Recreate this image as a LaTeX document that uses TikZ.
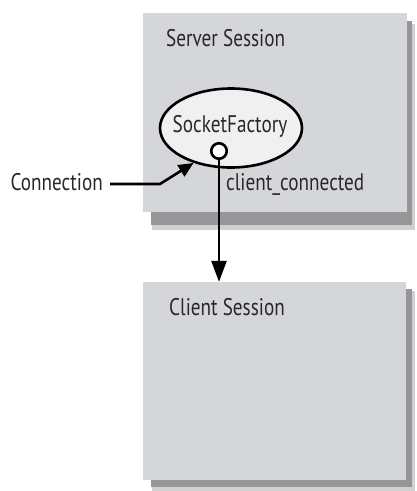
\documentclass[tikz,border=0pt]{standalone}
\usepackage{fontspec}
\setmainfont{PT Sans}[FakeStretch=0.80]
\usetikzlibrary{arrows.meta,shapes.geometric}
\definecolor{boxgray}{RGB}{213,214,217}
\definecolor{shadowgray}{RGB}{150,150,152}
\definecolor{ellfill}{RGB}{240,240,240}
\definecolor{txt}{RGB}{40,40,40}
\tikzset{
  session/.style={fill=boxgray, draw=none},
  lbl/.style={font=\fontsize{24}{26}\selectfont, text=txt, inner sep=0pt},
  conn/.style={line width=2.6pt, -{Triangle[length=21pt,width=15pt]}},
  connsmall/.style={line width=2.6pt, -{Triangle[length=15pt,width=13pt]}},
}
\begin{document}
\begin{tikzpicture}[x=1pt,y=-1pt]
\useasboundingbox (0,0) rectangle (417,491);
% server session
\fill[shadowgray!45] (152,24) rectangle (415,230);
\fill[shadowgray] (151,21) rectangle (412,225);
\node[session, minimum width=264pt, minimum height=199pt, inner sep=0pt] (server) at (275,112.5) {};
\node[lbl, anchor=west] (servert) at (166,38) {Server Session};
% client session
\fill[shadowgray!45] (152,291) rectangle (415,491);
\fill[shadowgray] (151,289) rectangle (412,487);
\node[session, minimum width=263pt, minimum height=198pt, inner sep=0pt] (client) at (274.5,381) {};
\node[lbl, anchor=west] (clientt) at (169,307) {Client Session};
% ellipse
\node[ellipse, draw=black, line width=2.6pt, fill=ellfill, minimum width=142pt, minimum height=79pt, inner sep=0pt] (sf) at (231,128) {};
\node[lbl] (sft) at (230,126) {SocketFactory};
\node[circle, draw=black, line width=2.6pt, fill=white, minimum size=15.5pt, inner sep=0pt] (port) at (219,151) {};
\draw[conn] (port.south) -- (port.south |- client.north);
\node[lbl, anchor=west] (cc) at (226,184) {client\_connected};
\node[lbl, anchor=east] (connt) at (103,182) {Connection};
\coordinate (bend) at (160,184);
\draw[connsmall] ([xshift=7pt]connt.east |- bend) -- (bend) -- (sf.223);
\end{tikzpicture}
\end{document}
